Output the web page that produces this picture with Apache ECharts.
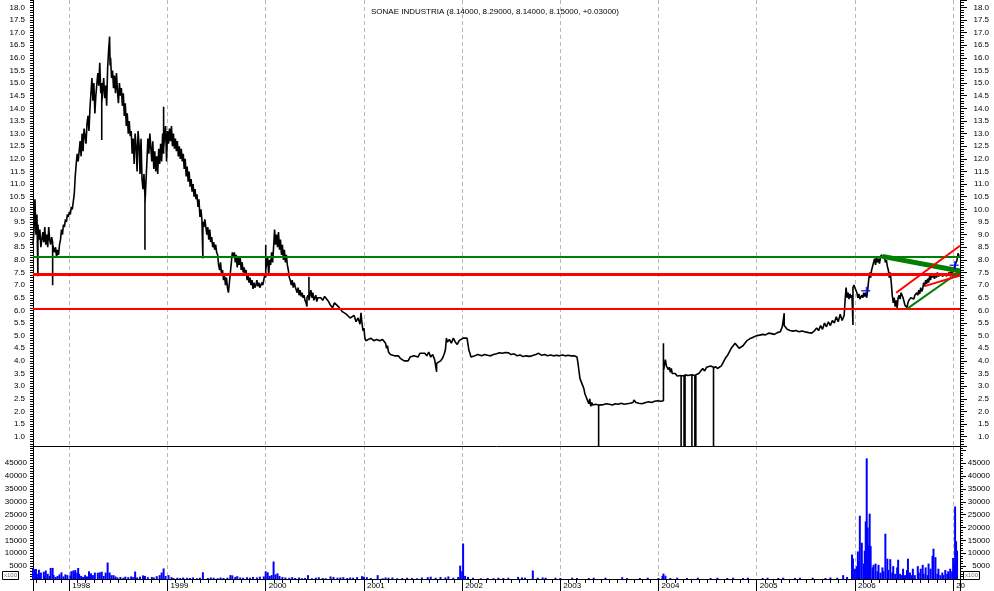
<!DOCTYPE html>
<html>
<head>
<meta charset="utf-8">
<script src="https://cdn.jsdelivr.net/npm/echarts@6/dist/echarts.min.js"></script>
<style>html,body{margin:0;padding:0;background:#fff}#c{width:994px;height:591px}</style>
</head>
<body>
<div id="c"></div>
<script>
// ---- data (dates as decimal years) ----
const chartTitle = 'SONAE INDUSTRIA (8.14000, 8.29000, 8.14000, 8.15000, +0.03000)';

const pricePoints = [
[1997.63,8.6],[1997.64,9.2],[1997.65,10.4],[1997.66,9.0],[1997.67,9.8],[1997.68,7.35],[1997.68,9.4],[1997.69,8.8],[1997.70,9.2],[1997.71,8.5],
[1997.73,9.1],[1997.74,8.7],[1997.75,9.3],[1997.76,8.6],[1997.77,9.0],[1997.78,8.5],[1997.79,9.3],[1997.80,8.8],[1997.81,8.6],[1997.82,8.9],
[1997.83,8.7],[1997.83,7.0],[1997.83,8.6],[1997.84,8.6],[1997.85,8.3],[1997.86,8.5],[1997.87,8.1],[1997.88,8.4],[1997.89,8.2],[1997.90,8.6],
[1997.91,8.8],[1997.92,9.2],[1997.93,9.0],[1997.94,9.4],[1997.95,9.3],[1997.96,9.6],[1997.97,9.5],[1997.98,9.8],[1997.99,9.7],[1998.00,9.9],
[1998.01,9.8],[1998.02,10.1],[1998.03,10.0],[1998.04,10.3],[1998.05,10.6],[1998.06,11.3],[1998.07,11.8],[1998.08,12.2],[1998.09,11.9],[1998.10,12.3],
[1998.11,12.7],[1998.12,12.1],[1998.13,13.0],[1998.14,12.3],[1998.15,13.2],[1998.16,12.9],[1998.17,12.6],[1998.18,13.4],[1998.19,13.7],[1998.20,13.1],
[1998.21,14.0],[1998.22,14.6],[1998.23,15.2],[1998.24,14.3],[1998.25,15.0],[1998.26,13.8],[1998.27,14.5],[1998.29,15.4],[1998.30,14.9],[1998.31,15.8],
[1998.32,14.6],[1998.33,15.0],[1998.33,12.75],[1998.33,14.2],[1998.35,15.2],[1998.36,14.4],[1998.37,14.9],[1998.38,14.1],[1998.39,15.6],[1998.40,16.3],
[1998.41,16.84],[1998.415,15.7],[1998.42,16.0],[1998.43,15.2],[1998.44,15.5],[1998.45,14.8],[1998.46,15.3],[1998.47,14.6],[1998.48,15.4],[1998.49,14.7],
[1998.50,14.2],[1998.51,15.0],[1998.52,14.5],[1998.53,14.8],[1998.54,14.1],[1998.55,14.6],[1998.56,13.7],[1998.57,14.2],[1998.58,13.3],[1998.59,13.8],
[1998.60,13.0],[1998.61,13.5],[1998.62,12.9],[1998.63,13.1],[1998.64,12.2],[1998.65,12.8],[1998.66,11.8],[1998.67,13.0],[1998.68,12.5],[1998.69,11.5],
[1998.70,13.1],[1998.71,12.6],[1998.72,11.4],[1998.73,12.8],[1998.74,11.2],[1998.75,10.8],[1998.76,11.4],[1998.77,10.5],[1998.77,8.4],[1998.77,10.2],
[1998.79,11.9],[1998.80,12.8],[1998.81,12.2],[1998.82,13.0],[1998.84,11.9],[1998.85,12.7],[1998.86,11.6],[1998.87,12.3],[1998.88,11.5],[1998.89,12.1],
[1998.90,11.4],[1998.91,12.4],[1998.92,11.8],[1998.93,12.6],[1998.94,11.9],[1998.95,13.0],[1998.96,12.2],[1998.96,14.06],[1998.96,12.4],[1998.98,13.3],
[1998.99,11.9],[1999.00,13.1],[1999.01,12.6],[1999.02,13.2],[1999.03,12.7],[1999.04,13.3],[1999.05,12.5],[1999.06,13.0],[1999.07,12.4],[1999.08,12.8],
[1999.09,12.3],[1999.10,12.7],[1999.11,12.1],[1999.12,12.5],[1999.13,12.0],[1999.14,12.4],[1999.15,11.9],[1999.16,12.2],[1999.17,11.6],[1999.18,12.0],
[1999.19,11.3],[1999.20,11.7],[1999.21,11.1],[1999.22,11.5],[1999.23,10.9],[1999.24,11.2],[1999.25,10.7],[1999.26,11.0],[1999.27,10.5],[1999.28,10.8],
[1999.29,10.4],[1999.30,10.6],[1999.31,10.1],[1999.32,10.4],[1999.33,9.7],[1999.34,10.0],[1999.35,9.6],[1999.36,9.6],[1999.36,8.06],[1999.36,9.5],
[1999.37,9.3],[1999.38,9.6],[1999.40,9.0],[1999.41,9.3],[1999.42,8.8],[1999.43,9.2],[1999.44,8.7],[1999.45,8.9],[1999.46,8.5],[1999.47,8.7],
[1999.48,8.4],[1999.49,8.6],[1999.50,8.3],[1999.51,8.2],[1999.52,7.8],[1999.53,7.6],[1999.54,7.9],[1999.55,7.4],[1999.56,7.6],[1999.57,7.2],
[1999.58,7.4],[1999.59,7.0],[1999.60,7.3],[1999.61,6.9],[1999.62,6.7],[1999.63,7.1],[1999.64,7.5],[1999.65,7.9],[1999.66,8.3],[1999.67,8.1],
[1999.68,8.3],[1999.69,7.9],[1999.70,8.2],[1999.71,7.7],[1999.72,8.1],[1999.73,7.8],[1999.74,8.1],[1999.75,7.6],[1999.76,7.9],[1999.77,7.5],
[1999.78,7.7],[1999.79,7.4],[1999.80,7.6],[1999.81,7.2],[1999.82,7.4],[1999.83,7.1],[1999.84,7.3],[1999.85,7.0],[1999.86,7.2],[1999.87,6.85],
[1999.88,7.1],[1999.89,6.9],[1999.90,7.0],[1999.91,7.2],[1999.92,6.95],[1999.93,7.1],[1999.94,6.9],[1999.96,7.1],[1999.97,7.0],[1999.98,7.2],
[1999.99,7.4],[2000.00,7.3],[2000.00,8.6],[2000.00,7.6],[2000.01,7.6],[2000.02,8.1],[2000.03,7.4],[2000.04,8.0],[2000.05,7.8],[2000.06,8.3],
[2000.07,7.9],[2000.08,8.5],[2000.09,9.2],[2000.10,8.6],[2000.11,9.0],[2000.12,8.5],[2000.13,9.1],[2000.14,8.4],[2000.15,8.8],[2000.16,8.2],
[2000.17,8.6],[2000.18,8.0],[2000.19,8.4],[2000.20,7.9],[2000.21,8.2],[2000.22,7.8],[2000.23,7.6],[2000.24,7.3],[2000.25,7.2],[2000.26,7.0],
[2000.27,7.2],[2000.28,6.9],[2000.29,7.1],[2000.30,6.95],[2000.31,6.9],[2000.32,6.7],[2000.33,6.9],[2000.34,6.6],[2000.35,6.8],[2000.36,6.55],
[2000.37,6.7],[2000.38,6.5],[2000.39,6.6],[2000.40,6.4],[2000.41,6.3],[2000.42,6.15],[2000.42,6.5],[2000.43,6.6],[2000.44,6.5],[2000.44,7.33],
[2000.44,6.4],[2000.45,6.6],[2000.46,6.8],[2000.47,6.5],[2000.48,6.7],[2000.49,6.4],[2000.51,6.6],[2000.52,6.35],[2000.53,6.5],[2000.54,6.45],
[2000.56,6.5],[2000.58,6.4],[2000.60,6.55],[2000.62,6.45],[2000.64,6.35],[2000.66,6.2],[2000.68,6.1],[2000.70,6.3],[2000.71,6.35],[2000.72,6.3],
[2000.74,6.15],[2000.76,6.05],[2000.78,5.95],[2000.80,6.0],[2000.82,5.85],[2000.84,5.9],[2000.86,5.7],[2000.88,5.65],[2000.90,5.8],[2000.92,5.55],
[2000.94,5.7],[2000.96,5.45],[2000.97,5.9],[2000.98,5.5],[2000.99,5.2],[2001.00,5.3],[2001.01,4.9],[2001.02,4.8],[2001.03,4.85],[2001.07,4.9],
[2001.10,4.8],[2001.13,4.85],[2001.16,4.8],[2001.19,4.85],[2001.22,4.7],[2001.23,4.5],[2001.24,4.6],[2001.25,4.35],[2001.26,4.4],[2001.27,4.25],
[2001.29,4.3],[2001.31,4.2],[2001.33,4.15],[2001.35,4.2],[2001.37,4.1],[2001.39,4.05],[2001.41,4.0],[2001.43,3.95],[2001.45,4.0],[2001.47,4.15],
[2001.49,4.1],[2001.51,4.2],[2001.53,4.25],[2001.55,4.15],[2001.57,4.3],[2001.59,4.25],[2001.62,4.3],[2001.64,4.2],[2001.66,4.35],[2001.68,4.15],
[2001.70,4.25],[2001.72,4.05],[2001.73,4.1],[2001.74,4.0],[2001.74,3.57],[2001.74,3.9],[2001.76,3.85],[2001.78,4.0],[2001.80,4.1],[2001.82,4.3],
[2001.83,4.45],[2001.84,4.9],[2001.85,4.75],[2001.87,4.85],[2001.89,4.7],[2001.91,4.9],[2001.93,4.75],[2001.95,4.65],[2001.97,4.8],[2001.99,4.85],
[2002.01,4.9],[2002.03,4.95],[2002.05,4.9],[2002.06,4.85],[2002.07,4.4],[2002.08,4.3],[2002.09,4.15],[2002.11,4.1],[2002.13,4.2],[2002.16,4.25],
[2002.20,4.2],[2002.23,4.25],[2002.26,4.22],[2002.29,4.2],[2002.32,4.25],[2002.35,4.28],[2002.38,4.32],[2002.41,4.3],[2002.44,4.33],[2002.47,4.32],
[2002.50,4.25],[2002.53,4.28],[2002.56,4.2],[2002.59,4.23],[2002.62,4.17],[2002.65,4.2],[2002.68,4.18],[2002.71,4.2],[2002.75,4.25],[2002.78,4.3],
[2002.81,4.22],[2002.84,4.25],[2002.87,4.2],[2002.90,4.23],[2002.93,4.2],[2002.96,4.22],[2002.99,4.2],[2003.02,4.23],[2003.05,4.2],[2003.08,4.22],
[2003.11,4.2],[2003.14,4.2],[2003.17,4.15],[2003.18,3.9],[2003.19,3.6],[2003.20,3.3],[2003.21,3.2],[2003.22,3.1],[2003.23,3.0],[2003.24,2.9],
[2003.25,2.7],[2003.26,2.6],[2003.27,2.55],[2003.29,2.3],[2003.30,2.5],[2003.31,2.2],[2003.32,2.35],[2003.33,2.25],[2003.34,2.3],[2003.36,2.28],
[2003.38,2.25],[2003.39,2.25],[2003.39,0],[2003.39,2.25],[2003.41,2.3],[2003.44,2.27],[2003.47,2.3],[2003.50,2.28],[2003.53,2.25],[2003.56,2.3],
[2003.59,2.28],[2003.62,2.32],[2003.65,2.28],[2003.68,2.3],[2003.71,2.32],[2003.74,2.35],[2003.75,2.45],[2003.77,2.35],[2003.80,2.32],[2003.83,2.3],
[2003.87,2.35],[2003.90,2.38],[2003.93,2.35],[2003.96,2.4],[2003.99,2.42],[2004.02,2.4],[2004.04,2.42],[2004.05,2.42],[2004.05,4.7],[2004.05,3.6],
[2004.07,4.05],[2004.08,3.8],[2004.09,3.85],[2004.10,3.65],[2004.11,3.75],[2004.12,3.55],[2004.13,3.7],[2004.14,3.5],[2004.15,3.45],[2004.17,3.5],
[2004.19,3.4],[2004.21,3.45],[2004.23,3.42],[2004.23,0],[2004.23,3.4],[2004.25,3.42],[2004.26,3.42],[2004.26,0],[2004.26,3.4],[2004.27,3.4],
[2004.27,0],[2004.27,3.45],[2004.30,3.42],[2004.32,3.45],[2004.34,3.45],[2004.34,0],[2004.34,3.45],[2004.36,3.4],[2004.37,3.42],[2004.37,0],
[2004.37,3.42],[2004.38,3.45],[2004.38,0],[2004.38,3.45],[2004.41,3.5],[2004.43,3.45],[2004.45,3.7],[2004.47,3.6],[2004.49,3.75],[2004.51,3.7],
[2004.53,3.8],[2004.55,3.75],[2004.56,3.75],[2004.56,0],[2004.56,3.7],[2004.58,3.78],[2004.60,3.7],[2004.62,3.65],[2004.64,3.8],[2004.66,3.95],
[2004.68,4.1],[2004.70,4.2],[2004.72,4.35],[2004.74,4.5],[2004.76,4.55],[2004.78,4.7],[2004.80,4.6],[2004.82,4.5],[2004.84,4.45],[2004.86,4.6],
[2004.88,4.7],[2004.90,4.8],[2004.92,4.85],[2004.94,4.9],[2004.97,4.95],[2005.00,5.0],[2005.03,5.02],[2005.06,5.05],[2005.09,5.03],[2005.12,5.1],
[2005.15,5.08],[2005.18,5.05],[2005.21,5.12],[2005.24,5.15],[2005.26,5.35],[2005.28,5.89],[2005.28,5.4],[2005.31,5.25],[2005.34,5.2],[2005.37,5.18],
[2005.40,5.2],[2005.43,5.15],[2005.46,5.18],[2005.49,5.15],[2005.53,5.12],[2005.56,5.1],[2005.59,5.2],[2005.61,5.3],[2005.63,5.2],[2005.65,5.4],
[2005.67,5.25],[2005.69,5.5],[2005.71,5.35],[2005.73,5.55],[2005.75,5.4],[2005.77,5.6],[2005.79,5.5],[2005.81,5.75],[2005.83,5.55],[2005.85,5.85],
[2005.87,5.6],[2005.89,5.8],[2005.90,6.4],[2005.91,6.9],[2005.92,6.5],[2005.93,6.7],[2005.94,6.45],[2005.95,6.65],[2005.96,6.5],[2005.97,6.6],
[2005.98,6.6],[2005.98,5.42],[2005.98,6.9],[2005.99,7.0],[2006.00,6.95],[2006.01,7.05],[2006.02,6.7],[2006.03,6.5],[2006.04,6.65],[2006.05,6.45],
[2006.07,6.6],[2006.08,6.5],[2006.09,6.7],[2006.10,6.55],[2006.11,6.7],[2006.12,6.5],[2006.13,6.8],[2006.14,7.2],[2006.15,7.5],[2006.16,7.3],
[2006.17,7.6],[2006.18,7.75],[2006.19,7.9],[2006.20,8.05],[2006.21,7.8],[2006.22,8.1],[2006.23,7.9],[2006.24,8.05],[2006.25,7.85],[2006.26,8.1],
[2006.27,8.2],[2006.28,8.26],[2006.29,8.05],[2006.30,8.15],[2006.31,7.9],[2006.32,8.0],[2006.33,7.75],[2006.34,7.6],[2006.35,7.3],[2006.36,7.5],
[2006.37,7.1],[2006.38,6.6],[2006.39,6.3],[2006.40,6.5],[2006.41,6.15],[2006.42,6.4],[2006.43,6.1],[2006.44,6.5],[2006.45,6.6],[2006.46,6.45],
[2006.47,6.7],[2006.48,6.6],[2006.49,6.5],[2006.50,6.35],[2006.51,6.2],[2006.52,6.15],[2006.53,6.12],[2006.54,6.3],[2006.55,6.4],[2006.56,6.35],
[2006.57,6.5],[2006.58,6.45],[2006.59,6.55],[2006.60,6.45],[2006.61,6.6],[2006.63,6.7],[2006.64,6.6],[2006.65,6.8],[2006.66,6.65],[2006.67,6.9],
[2006.68,6.75],[2006.69,6.85],[2006.70,7.1],[2006.71,6.95],[2006.72,7.2],[2006.73,7.05],[2006.74,7.25],[2006.75,7.1],[2006.76,7.35],[2006.77,7.2],
[2006.78,7.45],[2006.79,7.3],[2006.80,7.4],[2006.81,7.25],[2006.82,7.45],[2006.83,7.3],[2006.84,7.5],[2006.85,7.35],[2006.86,7.4],[2006.87,7.3],
[2006.88,7.45],[2006.89,7.35],[2006.90,7.4],[2006.91,7.3],[2006.92,7.45],[2006.93,7.35],[2006.94,7.3],[2006.95,7.4],[2006.96,7.5],[2006.97,7.35],
[2006.98,7.55],[2006.99,7.45],[2007.00,7.7],[2007.01,7.6],[2007.02,7.8],[2007.03,7.75],[2007.04,8.0],[2007.05,8.26],[2007.06,8.15]
];

const volumePoints = [
[1997.63,4000],[1997.65,3800],[1997.66,3900],[1997.67,2000],[1997.69,3600],[1997.70,1500],[1997.71,2500],[1997.74,2800],[1997.75,1200],[1997.76,3300],
[1997.78,2000],[1997.80,1200],[1997.81,4300],[1997.83,4300],[1997.84,1500],[1997.86,800],[1997.88,1200],[1997.90,1800],[1997.92,2600],[1997.94,1000],
[1997.96,1800],[1997.98,1500],[1998.01,1300],[1998.02,3000],[1998.04,3300],[1998.05,2500],[1998.06,3500],[1998.08,2500],[1998.09,4300],[1998.10,2000],
[1998.12,1200],[1998.14,800],[1998.16,1500],[1998.18,1000],[1998.20,3000],[1998.22,2200],[1998.24,1500],[1998.26,2500],[1998.29,2400],[1998.31,2600],
[1998.33,2800],[1998.35,1200],[1998.37,2500],[1998.39,6400],[1998.41,2500],[1998.43,1500],[1998.45,1500],[1998.47,1000],[1998.49,600],[1998.52,800],
[1998.55,500],[1998.57,900],[1998.60,700],[1998.63,1000],[1998.65,700],[1998.67,2900],[1998.69,600],[1998.72,900],[1998.75,1400],[1998.77,1200],
[1998.80,700],[1998.84,800],[1998.86,600],[1998.89,1100],[1998.92,1500],[1998.94,2500],[1998.96,4100],[1998.98,1200],[1999.01,1500],[1999.04,700],
[1999.06,400],[1999.10,500],[1999.13,400],[1999.16,600],[1999.20,500],[1999.23,400],[1999.26,600],[1999.30,300],[1999.33,500],[1999.36,2600],
[1999.41,400],[1999.44,600],[1999.47,500],[1999.51,300],[1999.54,600],[1999.57,400],[1999.61,500],[1999.64,1500],[1999.66,1400],[1999.69,800],
[1999.71,1100],[1999.74,600],[1999.77,500],[1999.81,700],[1999.84,500],[1999.87,800],[1999.91,600],[1999.94,900],[1999.98,1000],[2000.00,3000],
[2000.02,2600],[2000.04,1200],[2000.06,1500],[2000.08,6800],[2000.10,1800],[2000.12,2200],[2000.14,1200],[2000.17,800],[2000.20,600],[2000.24,500],
[2000.27,700],[2000.30,400],[2000.34,600],[2000.37,300],[2000.40,400],[2000.43,1500],[2000.47,300],[2000.51,500],[2000.54,700],[2000.58,400],
[2000.61,300],[2000.66,1000],[2000.69,800],[2000.73,500],[2000.76,600],[2000.79,700],[2000.83,400],[2000.86,600],[2000.89,500],[2000.93,700],
[2000.98,1100],[2001.00,900],[2001.03,700],[2001.07,400],[2001.14,1500],[2001.19,300],[2001.22,600],[2001.25,500],[2001.29,600],[2001.34,300],
[2001.39,400],[2001.44,500],[2001.49,400],[2001.54,300],[2001.59,600],[2001.65,700],[2001.68,900],[2001.73,500],[2001.78,800],[2001.83,600],
[2001.86,1000],[2001.91,500],[2001.96,800],[2001.98,5200],[2002.00,3000],[2002.01,13800],[2002.03,1200],[2002.06,800],[2002.11,500],[2002.19,300],
[2002.26,400],[2002.32,300],[2002.37,500],[2002.42,400],[2002.47,500],[2002.57,800],[2002.61,600],[2002.64,500],[2002.72,3300],[2002.77,500],
[2002.82,600],[2002.85,500],[2002.95,500],[2003.00,400],[2003.12,500],[2003.17,400],[2003.29,400],[2003.34,500],[2003.46,500],[2003.63,700],
[2003.68,400],[2003.81,400],[2003.89,500],[2004.00,400],[2004.04,1200],[2004.05,2100],[2004.07,1300],[2004.12,400],[2004.19,500],[2004.29,400],
[2004.40,500],[2004.53,400],[2004.60,500],[2004.70,400],[2004.76,500],[2004.86,400],[2004.91,500],[2005.06,400],[2005.11,500],[2005.22,400],
[2005.27,500],[2005.39,400],[2005.44,500],[2005.57,500],[2005.70,400],[2005.75,600],[2005.82,500],[2005.88,1500],[2005.92,800],[2005.97,9500],
[2005.98,8000],[2006.00,4000],[2006.02,5000],[2006.03,10700],[2006.04,7000],[2006.05,24600],[2006.07,14100],[2006.09,6000],[2006.10,11000],[2006.11,22400],
[2006.12,46900],[2006.13,20000],[2006.14,13300],[2006.15,25400],[2006.16,12800],[2006.18,4500],[2006.19,5500],[2006.21,6000],[2006.23,3000],[2006.24,5500],
[2006.26,2500],[2006.28,4500],[2006.29,3000],[2006.31,17600],[2006.33,7900],[2006.34,3500],[2006.36,7700],[2006.38,2500],[2006.39,5000],[2006.41,2000],
[2006.43,4500],[2006.44,7500],[2006.46,2000],[2006.48,1500],[2006.49,4000],[2006.51,1500],[2006.53,3500],[2006.54,7900],[2006.56,2500],[2006.58,1500],
[2006.59,4000],[2006.61,1500],[2006.64,5000],[2006.65,2500],[2006.67,4000],[2006.69,5500],[2006.70,2000],[2006.72,4500],[2006.74,1500],[2006.75,6000],
[2006.77,4000],[2006.79,9000],[2006.80,11800],[2006.82,8500],[2006.84,2000],[2006.85,4000],[2006.87,1500],[2006.89,2500],[2006.90,1500],[2006.92,3500],
[2006.94,2000],[2006.95,3000],[2006.97,4000],[2006.99,3000],[2007.00,8200],[2007.01,6000],[2007.02,28200],[2007.03,14700],[2007.04,11000]
];

// horizontal support / resistance levels
const levelValues = [8.14, 7.44, 6.08];
const levelColors = ['#008000', '#ff0000', '#ff0000'];
const levelWidths = [2, 3, 2];

// trend lines: [startDate, startValue, endDate, endValue]
const trendStart = [[2006.28, 8.14], [2006.53, 6.06], [2006.42, 6.70], [2006.71, 6.96]];
const trendEnd   = [[2007.07, 7.56], [2007.07, 7.54], [2007.07, 8.56], [2007.07, 7.38]];
const trendColors = ['#008000', '#008000', '#ff0000', '#ff0000'];
const trendWidths = [5, 2, 2, 2];

// blue signal markers
const markerPoints = [[2006.11, 6.78], [2007.01, 7.79]];

const xMin = 1997.63, xMax = 2007.07;
const priceMin = 0.63, priceMax = 18.29;
const volMax = 51700;
const volumeUnitLabel = 'x100';

// ---- chart ----
const FONT = 'Liberation Sans, Arial, sans-serif';
const chart = echarts.init(document.getElementById('c'), null, {renderer: 'canvas'});

const dashed = {show: true, lineStyle: {color: '#b8b8b8', type: [4, 3], width: 1}};
const yearFmt = v => {
  if (Math.abs(v - Math.round(v)) > 1e-6) return '';
  const y = Math.round(v);
  return y === 2007 ? '20' : String(y);
};
const halfFmt = v => (Math.abs(v * 2 - Math.round(v * 2)) > 1e-6) ? '' : v.toFixed(1);
const volFmt = v => (v <= 0 || v >= 50000 || v % 5000 !== 0) ? '' : String(v);

const baseX = {type: 'value', min: xMin, max: xMax, minInterval: 1, maxInterval: 1};
const blk = {color: '#000', width: 1};

const marks = [];
levelValues.forEach((v, i) => marks.push({yAxis: v, lineStyle: {color: levelColors[i], width: levelWidths[i], type: 'solid'}}));
trendStart.forEach((s, i) => marks.push([
  {coord: s, lineStyle: {color: trendColors[i], width: trendWidths[i], type: 'solid'}},
  {coord: trendEnd[i]}
]));

const option = {
  animation: false,
  backgroundColor: '#fff',
  textStyle: {fontFamily: FONT},
  title: {
    text: chartTitle, left: 366, top: 3,
    textStyle: {fontSize: 8, fontWeight: 'normal', color: '#000', fontFamily: FONT}
  },
  grid: [
    {left: 33, right: 34, top: 0, height: 446},
    {left: 33, right: 34, top: 446, height: 133}
  ],
  xAxis: [
    Object.assign({}, baseX, {
      gridIndex: 0, position: 'bottom',
      axisLine: {show: true, onZero: false, lineStyle: blk},
      axisTick: {show: false}, axisLabel: {show: false},
      splitLine: dashed
    }),
    Object.assign({}, baseX, {
      gridIndex: 1, position: 'bottom',
      axisLine: {show: true, onZero: false, lineStyle: blk},
      axisTick: {show: true, length: 12, lineStyle: blk},
      minorTick: {show: true, splitNumber: 12, length: 4, lineStyle: blk},
      axisLabel: {show: true, formatter: yearFmt, fontSize: 8, color: '#000', align: 'left',
                  margin: 3, padding: [0, 0, 0, 3], fontFamily: FONT},
      splitLine: dashed
    })
  ],
  yAxis: [
    {type: 'value', gridIndex: 0, position: 'left', min: priceMin, max: priceMax, minInterval: 0.5, maxInterval: 0.5,
     axisLine: {show: true, lineStyle: blk}, axisTick: {show: true, length: 3, lineStyle: blk},
     minorTick: {show: true, splitNumber: 5, length: 3, lineStyle: blk},
     axisLabel: {formatter: halfFmt, fontSize: 8, color: '#000', margin: 8, fontFamily: FONT},
     splitLine: {show: false}},
    {type: 'value', gridIndex: 0, position: 'right', min: priceMin, max: priceMax, minInterval: 0.5, maxInterval: 0.5,
     axisLine: {show: true, lineStyle: blk}, axisTick: {show: true, length: 7, lineStyle: blk},
     minorTick: {show: true, splitNumber: 5, length: 4, lineStyle: blk},
     axisLabel: {formatter: halfFmt, fontSize: 8, color: '#000', margin: 29, align: 'right', fontFamily: FONT},
     splitLine: {show: false}},
    {type: 'value', gridIndex: 1, position: 'left', min: 0, max: volMax, minInterval: 5000, maxInterval: 5000,
     axisLine: {show: true, lineStyle: blk}, axisTick: {show: true, length: 3, lineStyle: blk},
     minorTick: {show: true, splitNumber: 5, length: 3, lineStyle: blk},
     axisLabel: {formatter: volFmt, fontSize: 8, color: '#000', margin: 6, fontFamily: FONT},
     splitLine: {show: false}},
    {type: 'value', gridIndex: 1, position: 'right', min: 0, max: volMax, minInterval: 5000, maxInterval: 5000,
     axisLine: {show: true, lineStyle: blk}, axisTick: {show: true, length: 6, lineStyle: blk},
     minorTick: {show: true, splitNumber: 5, length: 3, lineStyle: blk},
     axisLabel: {formatter: volFmt, fontSize: 8, color: '#000', margin: 30, align: 'right', fontFamily: FONT},
     splitLine: {show: false}}
  ],
  series: [
    {
      name: 'price', type: 'line', xAxisIndex: 0, yAxisIndex: 0,
      data: pricePoints, showSymbol: false, symbol: 'none', clip: true,
      lineStyle: {color: '#000', width: 1.6}, z: 3,
      markLine: {silent: true, symbol: ['none', 'none'], label: {show: false}, data: marks, z: 5}
    },
    {
      name: 'signals', type: 'scatter', xAxisIndex: 0, yAxisIndex: 0,
      data: markerPoints, symbol: 'path://M0,4L10,4L10,6L0,6Z M5,0L7,0L7,10L5,10Z',
      symbolSize: [9, 8], itemStyle: {color: '#0000ff'}, z: 6
    },
    {
      name: 'volume', type: 'bar', xAxisIndex: 1, yAxisIndex: 2,
      data: volumePoints, barWidth: 2, itemStyle: {color: '#0000ff'}, z: 3
    }
  ],
  graphic: [
    {type: 'rect', left: 2, top: 571, shape: {width: 16, height: 8}, style: {fill: '#fff', stroke: '#000', lineWidth: 1}, z: 10},
    {type: 'text', left: 4, top: 572, style: {text: volumeUnitLabel, fontSize: 6, fill: '#777', fontFamily: FONT}, z: 11},
    {type: 'rect', left: 963, top: 571, shape: {width: 16, height: 8}, style: {fill: '#fff', stroke: '#000', lineWidth: 1}, z: 10},
    {type: 'text', left: 965, top: 572, style: {text: volumeUnitLabel, fontSize: 6, fill: '#777', fontFamily: FONT}, z: 11}
  ]
};
chart.setOption(option);
</script>
</body>
</html>
